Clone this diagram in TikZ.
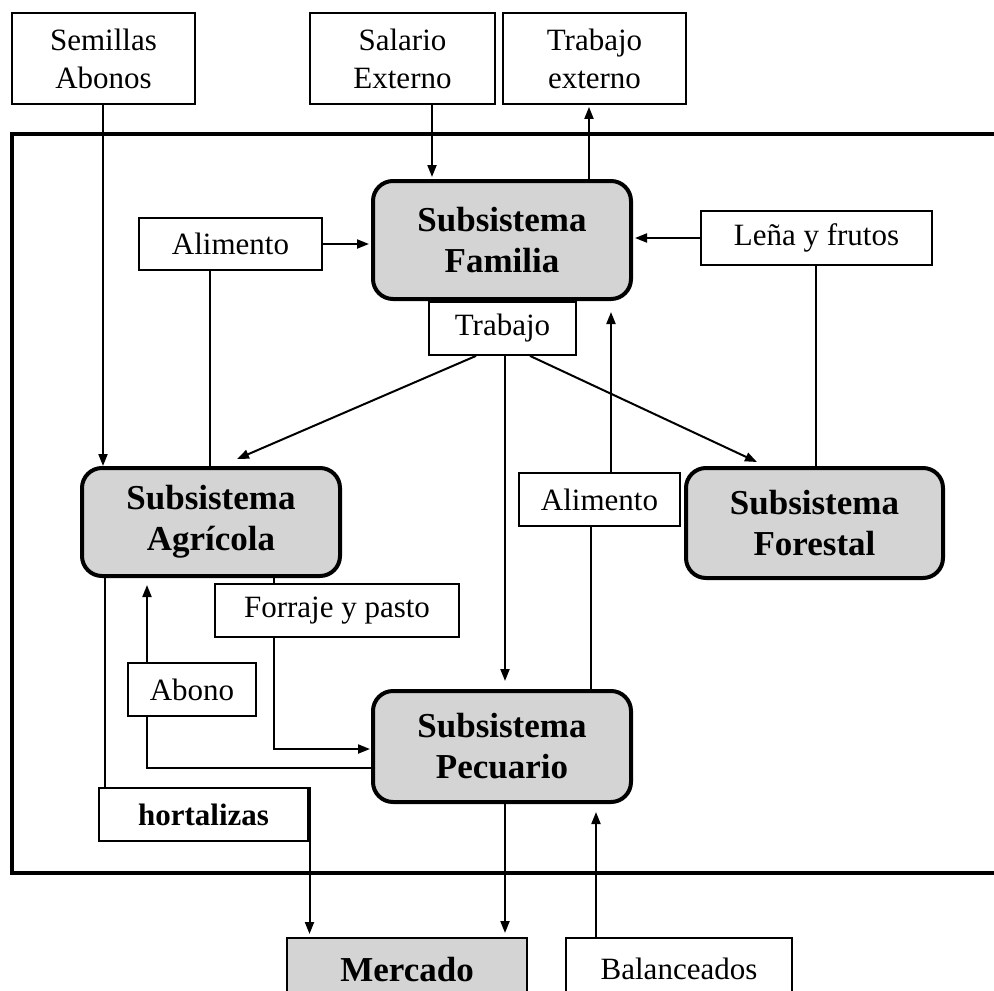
\documentclass[tikz,border=0pt]{standalone}
\usepackage{fontspec}
\setmainfont{Liberation Serif}
\usetikzlibrary{arrows.meta}
\definecolor{boxgray}{RGB}{212,212,212}
\begin{document}
\begin{tikzpicture}[x=1pt,y=-1pt,
  lbl/.style={draw, line width=1.8pt, fill=white, inner sep=0pt, align=center, font=\fontsize{31}{38}\selectfont},
  sub/.style={draw, line width=4pt, fill=boxgray, rounded corners=20pt, inner sep=0pt, align=center, font=\fontsize{35}{41}\selectfont\bfseries},
  con/.style={line width=2pt},
  arr/.style={con, -{Triangle[length=12pt,width=9pt]}},
  frame/.style={line width=4pt}]
\useasboundingbox (0,0) rectangle (994,991);
\clip (0,0) rectangle (994,991);
% outer frame
\draw[frame] (1010,134) -- (12,134) -- (12,873) -- (1010,873);
% nodes
\node[lbl, minimum width=183pt, minimum height=91pt] (sem) at (103.5,58.5) {Semillas\\Abonos};
\node[lbl, minimum width=185pt, minimum height=91pt] (sal) at (402.5,58.5) {Salario\\Externo};
\node[lbl, minimum width=183pt, minimum height=91pt] (tex) at (594.5,58.5) {Trabajo\\externo};
\node[sub, minimum width=258pt, minimum height=118pt] (fam) at (502,240) {Subsistema\\Familia};
\node[lbl, minimum width=183pt, minimum height=52pt] (aliml) at (230.5,244) {Alimento};
\node[lbl, minimum width=231pt, minimum height=54pt] (lena) at (816.5,238) {Leña y frutos};
\node[lbl, minimum width=147pt, minimum height=53pt] (trab) at (502.5,328.5) {Trabajo};
\node[sub, minimum width=258pt, minimum height=108pt] (agr) at (211,522) {Subsistema\\Agrícola};
\node[sub, minimum width=257pt, minimum height=110pt] (for) at (814.5,523) {Subsistema\\Forestal};
\node[lbl, minimum width=161pt, minimum height=53pt] (alimm) at (599.5,499.5) {Alimento};
\node[lbl, minimum width=244pt, minimum height=53pt] (forr) at (337,610.5) {Forraje y pasto};
\node[lbl, minimum width=128pt, minimum height=53pt] (abo) at (192,689.5) {Abono};
\node[sub, minimum width=258pt, minimum height=111pt] (pec) at (502,746.5) {Subsistema\\Pecuario};
\node[lbl, minimum width=209pt, minimum height=53pt, font=\fontsize{31}{38}\selectfont\bfseries] (hort) at (203.5,814.5) {hortalizas};
\node[sub, rounded corners=0pt, line width=2pt, minimum width=240pt, minimum height=64pt] (mer) at (407,970) {Mercado};
\node[lbl, minimum width=226pt, minimum height=62pt] (bal) at (679,969) {Balanceados};
% x / y positions of the connectors
\coordinate (xsem) at (103,0);
\coordinate (xsal) at (432,0);
\coordinate (xtex) at (589,0);
\coordinate (xal) at (210,0);
\coordinate (xle) at (816,0);
\coordinate (xtl) at (476,0);
\coordinate (xtm) at (505,0);
\coordinate (xtr) at (530,0);
\coordinate (tl) at (237,459);
\coordinate (tr) at (757,462);
\coordinate (xamu) at (611,0);
\coordinate (xamd) at (591,0);
\coordinate (xagh) at (105,0);
\coordinate (xho) at (309.5,0);
\coordinate (xfo) at (274,0);
\coordinate (yfo) at (0,749);
\coordinate (xab) at (147,0);
\coordinate (yab) at (0,768);
\coordinate (xba) at (596,0);
% connectors
\draw[arr] (sem.south -| xsem) -- (agr.north -| xsem);
\draw[arr, shorten >=2pt] (sal.south -| xsal) -- (fam.north -| xsal);
\draw[arr, shorten >=2pt] (fam.north -| xtex) -- (tex.south -| xtex);
\draw[arr, shorten >=2pt] (aliml.east) -- (fam.west |- aliml.east);
\draw[con] (aliml.south -| xal) -- (agr.north -| xal);
\draw[arr, shorten >=2pt] (lena.west) -- (fam.east |- lena.west);
\draw[con] (lena.south -| xle) -- (for.north -| xle);
\draw[arr] (trab.south -| xtl) -- (tl);
\draw[arr, shorten >=8pt] (trab.south -| xtm) -- (pec.north -| xtm);
\draw[arr] (trab.south -| xtr) -- (tr);
\draw[arr, shorten >=11pt] (alimm.north -| xamu) -- (fam.south -| xamu);
\draw[con] (alimm.south -| xamd) -- (pec.north -| xamd);
\draw[con] (agr.south -| xagh) -- (hort.north -| xagh);
\draw[arr, shorten >=3pt] (hort.north -| xho) -- (mer.north -| xho);
\draw[con] (agr.south -| xfo) -- (forr.north -| xfo);
\draw[arr, shorten >=1pt] (forr.south -| xfo) |- (pec.west |- yfo);
\draw[arr, shorten >=7pt] (abo.north -| xab) -- (agr.south -| xab);
\draw[con] (abo.south -| xab) |- (pec.west |- yab);
\draw[arr, shorten >=4pt] (pec.south -| xtm) -- (mer.north -| xtm);
\draw[arr, shorten >=8pt] (bal.north -| xba) -- (pec.south -| xba);
\end{tikzpicture}
\end{document}
